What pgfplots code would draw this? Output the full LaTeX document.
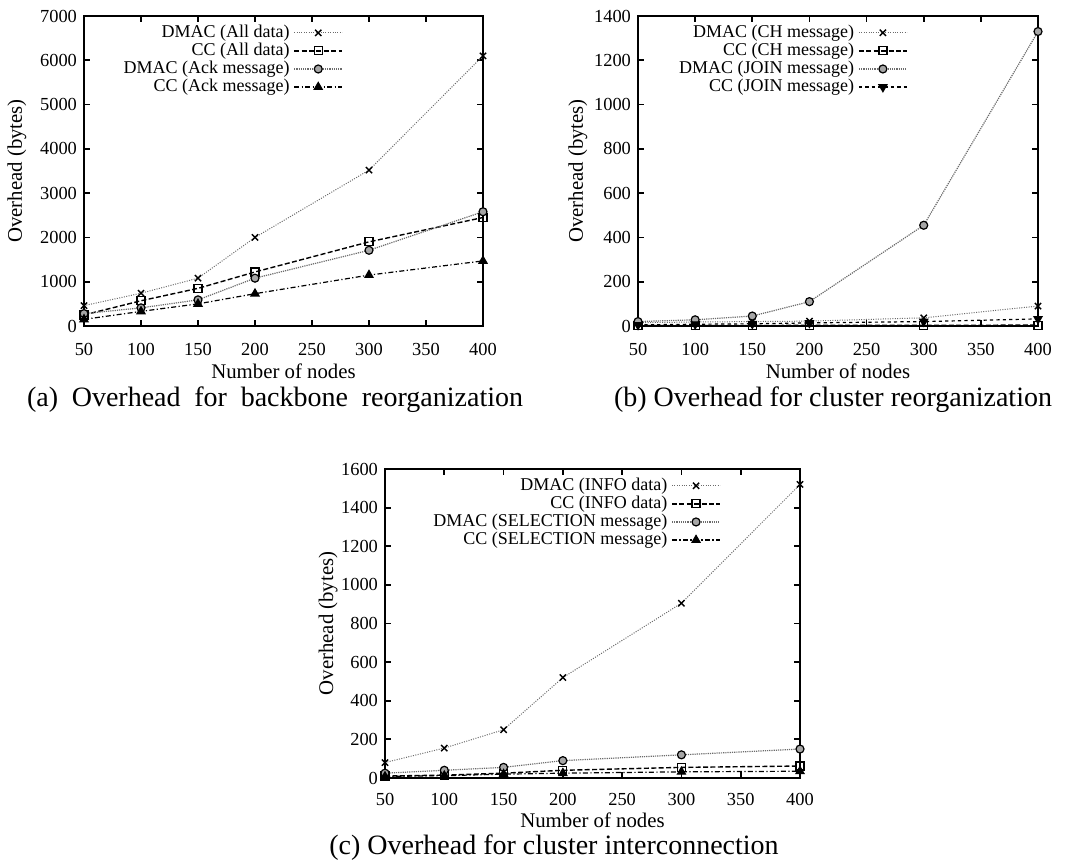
\documentclass[border=0pt]{standalone}
\usepackage{pgfplots}
\pgfplotsset{compat=1.18}
\usepackage{fontspec}
\setmainfont{Liberation Serif}
\definecolor{dgray}{gray}{0.42}
\pgfplotsset{
  gp/.style={
    scale only axis,
    xmin=50, xmax=400, ymin=0,
    xtick={50,100,...,400},
    tick align=inside,
    major tick length=3pt,
    axis line style={line width=1.1pt},
    every tick/.style={black, line width=0.9pt},
    /pgf/number format/assume math mode=true,
    /pgf/number format/set thousands separator={},
    ticklabel style={font=\fontsize{9.2pt}{10pt}\selectfont},
    xticklabel style={yshift=-5pt},
    label style={font=\fontsize{10.4pt}{11pt}\selectfont},
    xlabel={Number of nodes},
    ylabel={Overhead (bytes)},
    legend cell align=right,
    legend plot pos=right,
    legend style={draw=none, fill=none, font=\fontsize{9pt}{10pt}\selectfont,
      row sep=-2.7pt, inner sep=0pt},
    legend image code/.code={%
      \draw[mark repeat=2,mark phase=2,#1] plot coordinates {(0pt,0pt) (12pt,0pt) (24pt,0pt)};},
  },
  s1/.style={dgray, line width=0.5pt, dash pattern=on 0.5pt off 0.7pt, mark=x, mark size=2.2pt, mark options={solid, black, line width=0.7pt}},
  s2/.style={black, line width=0.7pt, dash pattern=on 2.5pt off 1.2pt, mark=square, mark size=2pt, mark options={solid, black, line width=0.6pt}},
  s3/.style={dgray, line width=0.6pt, dash pattern=on 0.6pt off 0.5pt, mark=*, mark size=2pt, mark options={solid, draw=black, fill=gray!70, line width=0.6pt}},
  s4/.style={black, line width=0.6pt, dash pattern=on 2.5pt off 1.2pt on 0.6pt off 1.2pt, mark=triangle*, mark size=2.3pt, mark options={solid, black}},
  s4b/.style={black, line width=0.6pt, dash pattern=on 1.6pt off 1.6pt, mark=triangle*, mark size=2.3pt, mark options={solid, black, rotate=180}},
}
\begin{document}
\begin{tikzpicture}
\path[use as bounding box] (0,0) rectangle (545.5pt,-431pt);
% (a)
\begin{axis}[gp, at={(42pt,-163pt)}, anchor=south west, width=199.5pt, height=155pt,
  ymax=7000, ytick={0,1000,...,7000},
  xlabel style={at={(axis description cs:0.5,-0.145)}, anchor=center},
  ylabel style={at={(axis description cs:-0.168,0.5)}, anchor=center},
  legend style={at={(0.65,0.985)}, anchor=north east}]
\addplot[s1] coordinates {(50,460) (100,740) (150,1080) (200,2000) (300,3520) (400,6100)};
\addlegendentry{DMAC (All data)}
\addplot[s2] coordinates {(50,250) (100,570) (150,850) (200,1220) (300,1900) (400,2450)};
\addlegendentry{CC (All data)}
\addplot[s3] coordinates {(50,280) (100,410) (150,590) (200,1080) (300,1710) (400,2580)};
\addlegendentry{DMAC (Ack message)}
\addplot[s4] coordinates {(50,150) (100,330) (150,500) (200,730) (300,1150) (400,1470)};
\addlegendentry{CC (Ack message)}
\end{axis}
% (b)
\begin{axis}[gp, at={(319pt,-163pt)}, anchor=south west, width=200pt, height=155pt,
  ymax=1400, ytick={0,200,...,1400},
  xlabel style={at={(axis description cs:0.5,-0.145)}, anchor=center},
  ylabel style={at={(axis description cs:-0.15,0.5)}, anchor=center},
  legend style={at={(0.675,0.985)}, anchor=north east}]
\addplot[s1] coordinates {(50,15) (100,18) (150,20) (200,22) (300,37) (400,90)};
\addlegendentry{DMAC (CH message)}
\addplot[s2] coordinates {(50,2) (100,2) (150,2) (200,3) (300,3) (400,4)};
\addlegendentry{CC (CH message)}
\addplot[s3] coordinates {(50,20) (100,28) (150,45) (200,110) (300,455) (400,1330)};
\addlegendentry{DMAC (JOIN message)}
\addplot[s4b] coordinates {(50,5) (100,8) (150,10) (200,14) (300,20) (400,32)};
\addlegendentry{CC (JOIN message)}
\end{axis}
% (c)
\begin{axis}[gp, at={(192.5pt,-389pt)}, anchor=south west, width=207.5pt, height=154.5pt,
  ymax=1600, ytick={0,200,...,1600},
  xticklabel style={yshift=1pt},
  xlabel style={at={(axis description cs:0.5,-0.136)}, anchor=center},
  ylabel style={at={(axis description cs:-0.137,0.5)}, anchor=center},
  legend style={at={(0.81,0.985)}, anchor=north east}]
\addplot[s1] coordinates {(50,80) (100,155) (150,250) (200,520) (300,905) (400,1520)};
\addlegendentry{DMAC (INFO data)}
\addplot[s2] coordinates {(50,10) (100,15) (150,25) (200,40) (300,55) (400,62)};
\addlegendentry{CC (INFO data)}
\addplot[s3] coordinates {(50,25) (100,40) (150,55) (200,90) (300,120) (400,150)};
\addlegendentry{DMAC (SELECTION message)}
\addplot[s4] coordinates {(50,8) (100,12) (150,20) (200,25) (300,32) (400,35)};
\addlegendentry{CC (SELECTION message)}
\end{axis}
\node[font=\fontsize{14pt}{16pt}\selectfont, inner sep=0pt] at (137.5pt,-200pt) {\makebox[248pt][s]{(a) Overhead for backbone reorganization}};
\node[font=\fontsize{14pt}{16pt}\selectfont, inner sep=0pt] at (416.5pt,-200pt) {(b) Overhead for cluster reorganization};
\node[font=\fontsize{14pt}{16pt}\selectfont, inner sep=0pt] at (277pt,-424pt) {(c) Overhead for cluster interconnection};
\end{tikzpicture}
\end{document}
